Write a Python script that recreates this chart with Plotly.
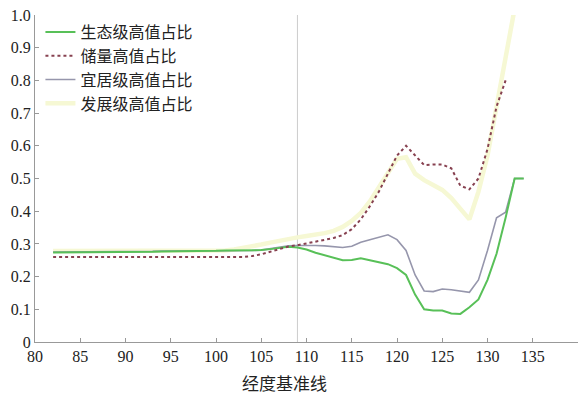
import plotly.graph_objects as go

# 经度 (longitude) sample points
lon = list(range(82, 135))

# 生态级高值占比
eco = [0.274, 0.274, 0.274, 0.274, 0.275, 0.275, 0.275, 0.275, 0.276, 0.276,
       0.276, 0.276, 0.277, 0.277, 0.277, 0.278, 0.278, 0.279, 0.279, 0.280,
       0.280, 0.280, 0.280, 0.281, 0.284, 0.288, 0.291, 0.289, 0.283, 0.273,
       0.265, 0.257, 0.250, 0.251, 0.256, 0.250, 0.245, 0.238, 0.226, 0.205,
       0.145, 0.100, 0.096, 0.096, 0.087, 0.086, 0.106, 0.130, 0.190, 0.270,
       0.380, 0.500, 0.500]

# 储量高值占比
reserve = [0.260, 0.260, 0.260, 0.260, 0.260, 0.260, 0.260, 0.260, 0.260, 0.260,
           0.260, 0.260, 0.260, 0.260, 0.260, 0.260, 0.260, 0.260, 0.260, 0.260,
           0.260, 0.260, 0.263, 0.268, 0.276, 0.284, 0.292, 0.296, 0.301, 0.306,
           0.312, 0.318, 0.327, 0.345, 0.375, 0.415, 0.460, 0.515, 0.570, 0.600,
           0.570, 0.541, 0.543, 0.543, 0.531, 0.478, 0.467, 0.500, 0.590, 0.720,
           0.800]

# 宜居级高值占比
liv = [0.275, 0.275, 0.275, 0.275, 0.276, 0.276, 0.276, 0.276, 0.277, 0.277,
       0.277, 0.277, 0.278, 0.278, 0.278, 0.279, 0.279, 0.280, 0.280, 0.280,
       0.280, 0.280, 0.280, 0.281, 0.285, 0.290, 0.294, 0.295, 0.296, 0.295,
       0.294, 0.291, 0.289, 0.293, 0.305, 0.313, 0.320, 0.328, 0.313, 0.280,
       0.205, 0.156, 0.154, 0.162, 0.160, 0.157, 0.152, 0.190, 0.280, 0.380,
       0.397, 0.500, 0.500]

# 发展级高值占比
dev = [0.278, 0.278, 0.278, 0.278, 0.278, 0.278, 0.278, 0.278, 0.278, 0.278,
       0.278, 0.278, 0.278, 0.278, 0.278, 0.278, 0.278, 0.278, 0.278, 0.280,
       0.283, 0.287, 0.292, 0.298, 0.304, 0.310, 0.316, 0.320, 0.324, 0.328,
       0.333, 0.340, 0.352, 0.370, 0.395, 0.430, 0.475, 0.520, 0.560, 0.565,
       0.515, 0.495, 0.480, 0.465, 0.440, 0.405, 0.375, 0.460, 0.570, 0.720,
       0.870, 1.020]

baseline_lon = 109

x_ticks = [80, 85, 90, 95, 100, 105, 110, 115, 120, 125, 130, 135]
y_ticks = [0, 0.1, 0.2, 0.3, 0.4, 0.5, 0.6, 0.7, 0.8, 0.9, 1.0]
y_tick_text = ["0", "0.1", "0.2", "0.3", "0.4", "0.5", "0.6", "0.7", "0.8", "0.9", "1.0"]

fig = go.Figure()

fig.add_trace(go.Scatter(x=lon[:len(dev)], y=dev, mode="lines", name="发展级高值占比",
                         line=dict(color="rgb(246,248,212)", width=4.5), legendrank=4))
fig.add_trace(go.Scatter(x=lon[:len(liv)], y=liv, mode="lines", name="宜居级高值占比",
                         line=dict(color="rgb(150,150,172)", width=1.6), legendrank=3))
fig.add_trace(go.Scatter(x=lon[:len(eco)], y=eco, mode="lines", name="生态级高值占比",
                         line=dict(color="rgb(88,192,88)", width=2), legendrank=1))
fig.add_trace(go.Scatter(x=lon[:len(reserve)], y=reserve, mode="lines", name="储量高值占比",
                         line=dict(color="rgb(135,65,80)", width=2, dash="3px,3px"), legendrank=2))

fig.add_shape(type="line", x0=baseline_lon, x1=baseline_lon, y0=0, y1=1,
              xref="x", yref="y", line=dict(color="rgb(205,205,205)", width=1), layer="below")

num_font = dict(family="Liberation Serif, DejaVu Serif, serif", size=16, color="#222")
cjk_font = dict(family="Noto Sans CJK SC", size=16, color="#222")

fig.add_annotation(text="经度基准线", xref="paper", yref="paper", x=0.46, y=-0.125,
                   xanchor="center", yanchor="middle", showarrow=False,
                   font=dict(family="Noto Sans CJK SC", size=17, color="#222"))

fig.update_layout(
    width=581, height=395,
    margin=dict(l=35, r=3, t=15, b=53),
    paper_bgcolor="white", plot_bgcolor="white",
    font=dict(family="Liberation Serif, DejaVu Serif, serif"),
    showlegend=True,
    legend=dict(x=0.01, y=1.0, xanchor="left", yanchor="top", font=cjk_font,
                bgcolor="rgba(0,0,0,0)", tracegroupgap=0),
    xaxis=dict(range=[80, 140], tickvals=x_ticks, ticks="inside", ticklen=4,
               tickcolor="#999", showline=True, linecolor="#999", linewidth=1,
               showgrid=False, zeroline=False, tickfont=num_font),
    yaxis=dict(range=[0, 1.0], tickvals=y_ticks, ticktext=y_tick_text, ticks="inside",
               ticklen=4, tickcolor="#999", showline=True, linecolor="#999", linewidth=1,
               showgrid=False, zeroline=False, tickfont=num_font),
)

fig.write_html("out.html")
